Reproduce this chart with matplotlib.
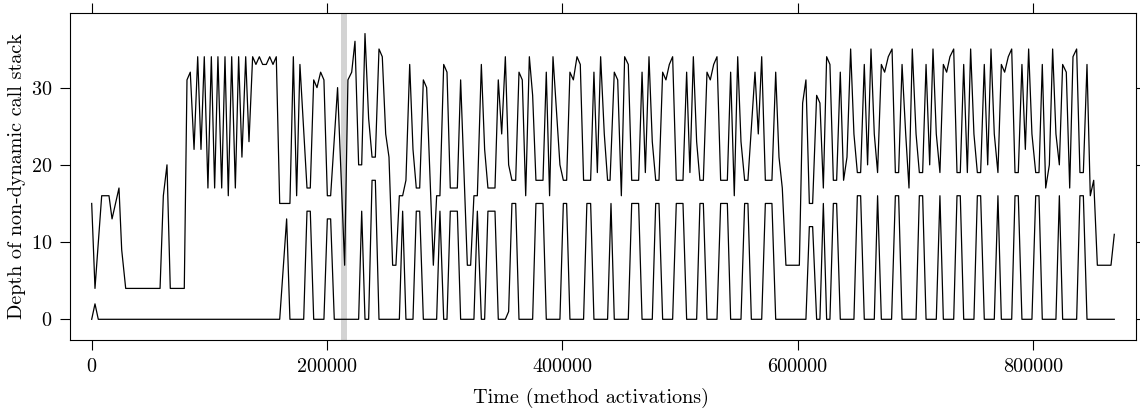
import numpy as np
import matplotlib
matplotlib.use("Agg")
import matplotlib.pyplot as plt

# time of each vertex, in thousands of method activations
upper_t = [0, 2.8, 8.5, 14.7, 17.3, 23.2, 25.5, 28.9, 58.1, 60.9, 64.0, 66.8, 78.7, 81.0, 83.8,
           87.0, 90.1, 92.9, 95.7, 98.8, 101.7, 104.5, 107.3, 110.5, 113.3, 116.1, 119.0, 122.1,
           124.9, 127.7, 130.9, 133.7, 136.8, 139.6, 142.5, 145.3, 148.4, 151.3, 154.1, 156.9,
           159.8, 168.5, 171.4, 174.2, 177.0, 183.0, 185.8, 188.7, 191.5, 194.6, 197.4, 200.3,
           203.1, 209.0, 215.0, 217.8, 221.0, 223.8, 226.9,
           229.5, 232.3, 235.4, 238.3, 241.1, 244.2, 247.0, 249.9, 252.7, 255.8, 258.6, 261.5,
           264.3, 267.1, 270.3, 273.1, 275.9, 278.8, 281.9, 284.7, 290.4, 293.2, 296.0, 299.2,
           302.0, 304.8, 310.8, 313.6, 319.3, 322.1, 324.9, 327.8, 331.2, 334.0, 336.8, 342.8,
           345.6, 348.5, 351.6, 354.4, 357.2, 360.4, 363.2, 366.0, 368.9, 372.0, 374.8, 377.6,
           383.6, 386.4, 389.2, 392.1, 398.0, 400.9, 403.7, 406.5, 409.4, 412.5, 415.3, 418.1,
           424.1, 426.9, 429.8, 432.6, 435.7, 438.5,
           440.6, 444.2, 447.1, 450.2, 453.0, 456.1, 459.0, 464.9, 467.8, 470.6, 473.7, 476.5,
           479.4, 482.2, 485.3, 488.1, 491.0, 493.8, 496.9, 502.6, 505.7, 508.5, 511.4, 514.2,
           517.0, 519.9, 523.0, 525.8, 528.7, 531.5, 534.6, 540.3, 543.1, 546.2, 549.1, 551.9,
           555.0, 557.8, 563.8, 566.6, 569.5, 572.6, 578.2, 581.4, 584.2, 587.0, 590.1, 601.5,
           604.3, 607.1, 610.0, 612.8, 616.2, 619.0, 621.9, 624.7, 627.5, 630.4, 633.2, 636.3,
           639.1, 642.0, 645.1, 647.9, 650.8, 653.6, 656.7, 659.5, 662.4, 665.2, 668.0,
           671.2, 674.0, 677.1, 680.3, 683.1, 685.9, 688.8, 691.9, 694.7, 697.5, 700.7, 703.5,
           706.3, 709.2, 712.3, 715.1, 717.9, 721.0, 723.9, 726.7, 729.5, 732.7, 735.5, 738.3,
           741.2, 744.3, 747.1, 749.9, 752.8, 755.6, 758.7, 761.6, 764.4, 767.2, 770.3, 773.2,
           776.0, 779.1, 782.0, 784.8, 787.6, 790.7, 793.6, 796.4, 799.2, 802.4, 805.2, 808.0,
           810.9, 814.0, 816.8, 819.6, 822.5, 825.3, 828.4, 831.3, 834.1, 837.2, 840.0, 842.9,
           846.0, 848.8, 851.7, 854.8, 866.4, 869.2]
upper_d = [15, 4, 16, 16, 13, 17, 9, 4, 4, 16, 20, 4, 4, 31, 32,
           22, 34, 22, 34, 17, 34, 17, 34, 17, 34, 16, 34, 17,
           34, 21, 34, 23, 34, 33, 34, 33, 33, 34, 33, 34,
           15, 15, 34, 16, 33, 17, 17, 31, 30, 32, 31, 16,
           16, 30, 7, 31, 32, 36, 20,
           20, 37, 26, 21, 21, 35, 34, 24, 21, 7, 7, 16,
           16, 18, 33, 22, 17, 17, 31, 30, 7, 16, 16, 33,
           32, 17, 17, 31, 7, 7, 16, 16, 33, 22, 17, 17,
           31, 24, 34, 20, 18, 18, 32, 31, 16, 34, 29, 18,
           18, 32, 16, 34, 20, 18, 18, 32, 31, 34, 33, 18,
           18, 32, 19, 34, 24, 18,
           18, 32, 31, 16, 34, 33, 18, 18, 32, 19, 34, 23,
           18, 18, 32, 31, 33, 34, 18, 18, 32, 19, 34, 23,
           18, 18, 32, 31, 33, 34, 18, 18, 32, 16, 34, 23,
           18, 18, 32, 24, 34, 18, 18, 32, 21, 17, 7, 7,
           28, 31, 15, 15, 29, 28, 17, 34, 33, 18, 18, 32,
           18, 21, 35, 24, 19, 19, 33, 20, 35, 24, 19,
           33, 32, 34, 35, 19, 19, 33, 24, 17, 35, 24, 19,
           19, 33, 20, 35, 24, 19, 33, 32, 34, 35, 19, 19,
           33, 19, 35, 24, 19, 19, 33, 20, 35, 24, 19, 33,
           32, 34, 35, 19, 19, 33, 22, 35, 24, 19, 19, 33,
           17, 20, 35, 24, 20, 33, 32, 17, 34, 35, 19, 19,
           33, 16, 18, 7, 7, 11]

lower_t = [0, 2.8, 5.6, 159.8, 165.7, 168.5, 180.2, 183.0, 185.8, 188.7, 197.4, 200.3, 203.1, 206.2,
           226.9, 229.5, 232.3, 235.4, 238.3, 241.1, 244.2, 261.5, 264.3, 267.1, 273.1, 275.9, 278.8,
           281.9, 293.2, 296.0, 299.2, 302.0, 304.8, 310.8, 313.6, 324.9, 327.8, 331.2, 334.0,
           336.8, 342.8, 345.6, 351.6, 354.4, 357.2, 360.4, 363.2, 374.8, 377.6, 383.6, 386.4,
           398.0, 400.9, 403.7, 406.5, 418.1, 420.9, 424.1, 426.9, 438.5,
           441.4, 444.2, 456.1, 459.0, 464.9, 467.8, 476.5, 479.4, 482.2, 485.3, 493.8, 496.9,
           502.6, 505.7, 514.2, 517.0, 519.9, 523.0, 531.5, 534.6, 540.3, 543.1, 551.9, 555.0,
           557.8, 560.7, 569.5, 572.6, 578.2, 581.4, 607.1, 610.0, 612.8, 616.2, 619.0, 621.9,
           624.7, 627.5, 630.4, 633.2, 636.3, 647.9, 650.8, 653.6, 656.7, 665.2, 668.0, 671.2,
           679.9, 683.1, 685.9, 688.8, 700.7, 703.5, 706.3, 709.2, 717.9, 721.0, 723.9, 732.7,
           735.5, 738.3, 741.2, 749.9, 752.8, 755.6, 758.7, 767.2, 770.3, 773.2, 782.0, 784.8,
           787.6, 790.7, 799.2, 802.4, 805.2, 808.0, 819.6, 822.5, 825.3, 837.2, 840.0, 842.9,
           846.0, 869.2]
lower_d = [0, 2, 0, 0, 13, 0, 0, 14, 14, 0, 0, 13, 13, 0,
           0, 14, 0, 0, 18, 18, 0, 0, 14, 0, 0, 14, 14,
           0, 0, 14, 0, 0, 14, 14, 0, 0, 14, 0, 0,
           14, 14, 0, 0, 1, 15, 15, 0, 0, 15, 15, 0,
           0, 15, 15, 0, 0, 15, 15, 0, 0,
           15, 0, 0, 15, 15, 0, 0, 15, 15, 0, 0, 15,
           15, 0, 0, 15, 15, 0, 0, 15, 15, 0, 0, 15,
           15, 0, 0, 15, 15, 0, 0, 12, 12, 0, 0, 15,
           0, 0, 15, 15, 0, 0, 16, 16, 0, 0, 16, 0,
           0, 16, 16, 0, 0, 16, 16, 0, 0, 16, 0, 0,
           16, 16, 0, 0, 16, 16, 0, 0, 16, 0, 0, 16,
           16, 0, 0, 16, 16, 0, 0, 16, 0, 0, 16, 16,
           0, 0]

band = (211.6, 216.7)  # highlighted interval, thousands
xticks = [0, 200000, 400000, 600000, 800000]
yticks = [0, 10, 20, 30]

plt.rcParams['font.family'] = ['cmr10', 'DejaVu Serif']
plt.rcParams['axes.formatter.use_mathtext'] = True

fig = plt.figure(figsize=(11.4, 4.11), dpi=100)
ax = fig.add_axes([70/1140, 71/411, 1065.7/1140, 327.3/411])

ax.axvspan(band[0]*1000, band[1]*1000, color='#d3d3d3', lw=0, zorder=0)
ax.plot(np.array(upper_t)*1000, upper_d, color='black', lw=0.9)
ax.plot(np.array(lower_t)*1000, lower_d, color='black', lw=0.9)

ax.set_xlim(-18440, 887400)
ax.set_ylim(-2.68, 39.7)
ax.set_xticks(xticks)
ax.set_xticklabels([str(v) for v in xticks])
ax.set_yticks(yticks)
ax.tick_params(direction='out', length=7.2, width=0.8, top=True, right=True,
               labeltop=False, labelright=False, labelsize=14.5, colors='black')
ax.tick_params(axis='x', pad=6)
ax.tick_params(axis='y', pad=5.5)
for s in ax.spines.values():
    s.set_linewidth(0.8)

ax.set_xlabel('Time (method activations)', fontsize=14.5)
ax.set_ylabel('Depth of non-dynamic call stack', fontsize=14.5)
ax.xaxis.set_label_coords(0.489, -0.145)
ax.yaxis.set_label_coords(-0.041, 0.5)

fig.savefig('out.png', dpi=100)
